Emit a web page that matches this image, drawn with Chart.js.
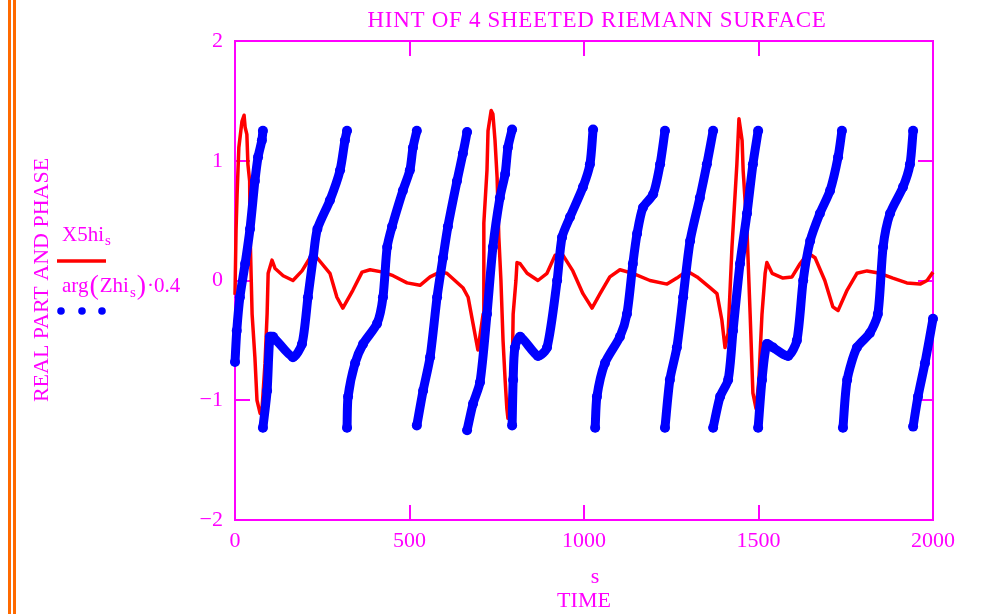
<!DOCTYPE html>
<html>
<head>
<meta charset="utf-8">
<script src="https://cdn.jsdelivr.net/npm/chart.js@4/dist/chart.umd.min.js"></script>
<style>
  body { margin: 0; background: #fff; }
  #wrap { width: 988px; height: 614px; }
</style>
</head>
<body>
<div id="wrap"><canvas id="myChart" width="988" height="614"></canvas></div>
<script>
// X5hi_s (red line)
const redTime = [0, 3, 6, 11, 20, 26, 29, 34, 37, 42, 43, 49, 57, 63, 72, 77, 86, 92, 95, 106, 115, 138, 166, 192, 215, 235, 272, 292, 309, 338, 364, 387, 424, 453, 493, 530, 559, 587, 607, 653, 668, 682, 696, 711, 713, 722, 725, 734, 739, 745, 751, 756, 762, 768, 774, 779, 782, 794, 797, 805, 808, 817, 837, 868, 894, 917, 940, 968, 997, 1023, 1046, 1074, 1103, 1140, 1189, 1238, 1266, 1295, 1324, 1361, 1381, 1395, 1404, 1413, 1424, 1438, 1444, 1453, 1456, 1467, 1476, 1484, 1493, 1501, 1510, 1519, 1524, 1539, 1570, 1596, 1619, 1642, 1662, 1690, 1713, 1728, 1754, 1782, 1811, 1848, 1885, 1925, 1963, 1983, 2000];
const redValue = [-0.12, 0.42, 0.72, 1.11, 1.33, 1.38, 1.28, 1.22, 0.97, 0.83, 0.42, -0.28, -0.64, -1.0, -1.11, -1.09, -0.69, -0.28, 0.06, 0.17, 0.1, 0.04, 0.0, 0.08, 0.19, 0.19, 0.06, -0.14, -0.23, -0.08, 0.07, 0.09, 0.07, 0.04, -0.02, -0.04, 0.03, 0.07, 0.06, -0.06, -0.14, -0.36, -0.58, -0.28, 0.48, 0.92, 1.25, 1.42, 1.39, 1.17, 0.86, 0.36, 0.0, -0.5, -0.83, -1.07, -1.15, -0.83, -0.28, 0.0, 0.15, 0.14, 0.06, 0.0, 0.06, 0.21, 0.21, 0.08, -0.11, -0.23, -0.11, 0.03, 0.09, 0.06, 0.0, -0.03, 0.02, 0.08, 0.03, -0.06, -0.11, -0.33, -0.56, -0.44, 0.28, 0.97, 1.35, 1.17, 0.92, 0.42, -0.28, -0.94, -1.07, -0.83, -0.28, 0.06, 0.15, 0.06, 0.02, 0.03, 0.14, 0.23, 0.19, 0.0, -0.22, -0.25, -0.08, 0.06, 0.08, 0.06, 0.02, -0.02, -0.03, 0.0, 0.07];

// arg(Zhi_s)*0.4 (blue dots), null marks a phase wrap
const phaseTime = [0, 5, 14, 29, 43, 57, 66, 77, 80, 80,
  80, 92, 100, 109, 166, 192, 209, 224, 236, 272, 301, 315, 321, 321,
  321, 324, 344, 367, 407, 424, 436, 450, 481, 501, 510, 521, 521,
  521, 539, 559, 579, 596, 610, 636, 653, 665, 665,
  665, 682, 702, 722, 739, 759, 774, 782, 794, 794,
  794, 797, 802, 817, 868, 894, 923, 937, 960, 997, 1017, 1026, 1029,
  1032, 1037, 1060, 1103, 1123, 1140, 1152, 1169, 1198, 1218, 1232, 1232,
  1232, 1246, 1266, 1284, 1304, 1332, 1352, 1370, 1370,
  1370, 1390, 1413, 1427, 1447, 1467, 1484, 1499, 1499,
  1499, 1510, 1524, 1542, 1585, 1610, 1628, 1648, 1676, 1705, 1728, 1739, 1740,
  1742, 1754, 1782, 1819, 1842, 1857, 1877, 1914, 1934, 1943, 1943,
  1943, 1957, 1977, 2000];
const phaseValue = [-0.68, -0.42, -0.14, 0.14, 0.43, 0.83, 1.03, 1.17, 1.25, null,
  -1.23, -0.92, -0.47, -0.47, -0.64, -0.53, -0.14, 0.19, 0.43, 0.67, 0.92, 1.17, 1.25, null,
  -1.23, -0.97, -0.69, -0.53, -0.36, -0.14, 0.28, 0.45, 0.75, 0.92, 1.11, 1.25, null,
  -1.21, -0.92, -0.64, -0.14, 0.19, 0.45, 0.83, 1.06, 1.24, null,
  -1.25, -1.03, -0.85, -0.28, 0.28, 0.69, 0.89, 1.11, 1.26, null,
  -1.21, -0.83, -0.56, -0.47, -0.63, -0.56, 0.0, 0.36, 0.53, 0.78, 0.97, 1.26, null,
  -1.23, -0.97, -0.69, -0.47, -0.28, 0.14, 0.39, 0.61, 0.72, 0.97, 1.25, null,
  -1.23, -0.83, -0.56, -0.14, 0.33, 0.69, 0.97, 1.25, null,
  -1.23, -0.97, -0.83, -0.42, 0.14, 0.56, 0.97, 1.25, null,
  -1.23, -0.83, -0.53, -0.56, -0.63, -0.5, 0.0, 0.33, 0.56, 0.75, 1.03, 1.25, null,
  -1.23, -0.83, -0.56, -0.44, -0.28, 0.28, 0.56, 0.78, 0.97, 1.25, null,
  -1.22, -0.97, -0.69, -0.32];

const xTicks = [0, 500, 1000, 1500, 2000];
const yTicks = [-2, -1, 0, 1, 2];

const MAG = '#ff00ff';
const SERIF = '"Liberation Serif", "Times New Roman", serif';

const redData = redTime.map((t, i) => ({ x: t, y: redValue[i] }));
const phaseData = phaseTime.map((t, i) => ({ x: t, y: phaseValue[i] }));

// frame, inner ticks, titles and legend, drawn Mathcad style
const mathcadFrame = {
    id: 'mathcadFrame',
    beforeDatasetsDraw(chart) {
        const ctx = chart.ctx;
        const a = chart.chartArea;
        const xs = chart.scales.x, ys = chart.scales.y;
        ctx.save();
        ctx.strokeStyle = MAG;
        ctx.lineWidth = 2;
        ctx.strokeRect(a.left, a.top, a.right - a.left, a.bottom - a.top);
        ctx.beginPath();
        xTicks.slice(1, -1).forEach(v => {
            const px = Math.round(xs.getPixelForValue(v));
            ctx.moveTo(px, a.bottom); ctx.lineTo(px, a.bottom - 15);
            ctx.moveTo(px, a.top); ctx.lineTo(px, a.top + 15);
        });
        yTicks.slice(1, -1).forEach(v => {
            const py = Math.round(ys.getPixelForValue(v));
            ctx.moveTo(a.left, py); ctx.lineTo(a.left + 15, py);
            ctx.moveTo(a.right, py); ctx.lineTo(a.right - 15, py);
        });
        ctx.stroke();
        ctx.restore();
    },
    afterDraw(chart) {
        const ctx = chart.ctx;
        const a = chart.chartArea;
        ctx.save();
        // orange double rule on the left edge
        ctx.fillStyle = '#ff6a00';
        ctx.fillRect(8, 0, 3, 614);
        ctx.fillRect(13, 0, 3, 614);

        ctx.fillStyle = MAG;
        ctx.textBaseline = 'alphabetic';
        // title
        ctx.font = '23px ' + SERIF;
        ctx.letterSpacing = '0.7px';
        ctx.textAlign = 'center';
        ctx.fillText('HINT OF 4 SHEETED RIEMANN SURFACE', (a.left + a.right) / 2 + 13, 27);
        ctx.letterSpacing = '0px';

        // x axis titles
        ctx.font = '22px ' + SERIF;
        ctx.fillText('s', 595, 583);
        ctx.fillText('TIME', 584, 607);

        // y axis title
        ctx.save();
        ctx.translate(48, 280);
        ctx.rotate(-Math.PI / 2);
        ctx.fillText('REAL PART AND PHASE', 0, 0);
        ctx.restore();

        // legend
        ctx.textAlign = 'left';
        let x = 62;
        ctx.font = '21px ' + SERIF;
        ctx.fillText('X5hi', x, 241);
        x += ctx.measureText('X5hi').width + 1;
        ctx.font = '15px ' + SERIF;
        ctx.fillText('s', x, 245);

        ctx.strokeStyle = '#ff0000';
        ctx.lineWidth = 3.5;
        ctx.beginPath();
        ctx.moveTo(57, 261); ctx.lineTo(106, 261);
        ctx.stroke();

        x = 62;
        const parts = [['arg', 21, 292], ['(', 28, 294], ['Zhi', 21, 292], ['s', 15, 297], [')', 28, 294], ['\u00b70.4', 21, 292]];
        parts.forEach(p => {
            ctx.font = p[1] + 'px ' + SERIF;
            ctx.fillText(p[0], x, p[2]);
            x += ctx.measureText(p[0]).width + 1;
        });

        ctx.fillStyle = '#0000ff';
        [61, 82, 102].forEach(cx => {
            ctx.beginPath();
            ctx.arc(cx, 311, 3.8, 0, Math.PI * 2);
            ctx.fill();
        });
        ctx.restore();
    }
};

const ctx = document.getElementById('myChart');

new Chart(ctx, {
    type: 'line',
    data: {
        datasets: [{
            label: 'arg(Zhi_s)*0.4',
            data: phaseData,
            borderColor: '#0000ff',
            backgroundColor: '#0000ff',
            borderWidth: 9,
            borderCapStyle: 'round',
            borderJoinStyle: 'round',
            tension: 0.25,
            pointRadius: 5,
            pointBorderWidth: 0,
            spanGaps: false,
            clip: 8
        }, {
            label: 'X5hi_s',
            data: redData,
            borderColor: '#ff0000',
            borderWidth: 3.5,
            borderJoinStyle: 'round',
            pointRadius: 0,
            clip: 8
        }]
    },
    options: {
        animation: false,
        responsive: false,
        devicePixelRatio: 1,
        layout: {
            padding: { left: 175, right: 55, top: 41, bottom: 0 }
        },
        scales: {
            x: {
                type: 'linear',
                min: 0,
                max: 2000,
                grid: { display: false, drawTicks: false },
                border: { display: false },
                ticks: {
                    stepSize: 500,
                    autoSkip: false,
                    maxRotation: 0,
                    padding: 8,
                    color: MAG,
                    font: { family: SERIF, size: 22 },
                    callback: (value) => String(value)
                },
                afterFit: (scale) => {
                    scale.height = 94;
                    scale.paddingLeft = 0;
                    scale.paddingRight = 0;
                }
            },
            y: {
                min: -2,
                max: 2,
                grid: { display: false, drawTicks: false },
                border: { display: false },
                ticks: {
                    stepSize: 1,
                    padding: 12,
                    color: MAG,
                    font: { family: SERIF, size: 22 },
                    callback: (value) => String(value).replace('-', '\u2212')
                },
                afterFit: (scale) => {
                    scale.width = 60;
                    scale.paddingTop = 0;
                    scale.paddingBottom = 0;
                }
            }
        },
        plugins: {
            legend: { display: false },
            tooltip: { enabled: false }
        }
    },
    plugins: [mathcadFrame]
});
</script>
</body>
</html>
